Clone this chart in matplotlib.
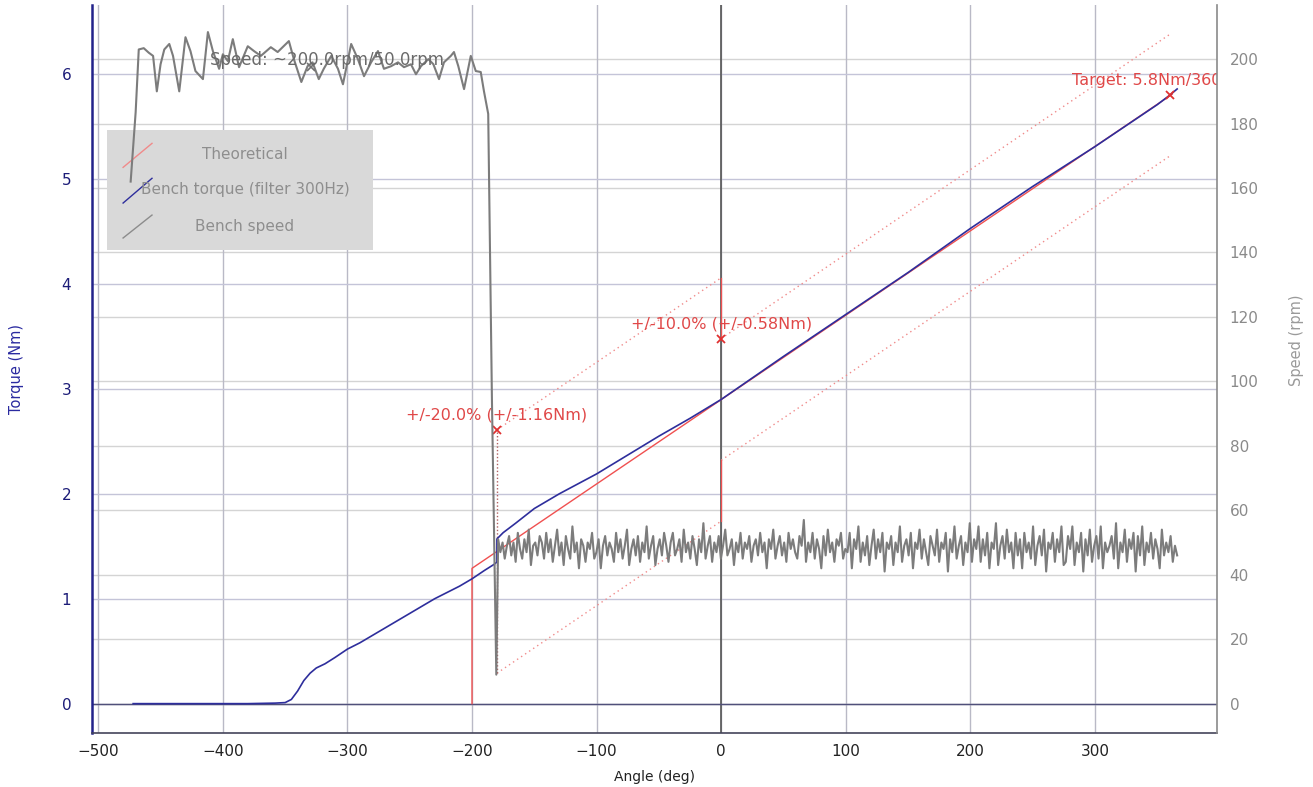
import numpy as np
import matplotlib
matplotlib.use("Agg")
import matplotlib.pyplot as plt
import matplotlib.transforms as mtransforms
from matplotlib.patches import Rectangle
from matplotlib.lines import Line2D

# ---------------- data ----------------
# measured torque (blue), key points read from the chart
torque_angle = [-472, -420, -380, -358, -350, -345, -340, -335, -330, -325, -318, -310, -300,
                -290, -280, -270, -260, -250, -240, -230, -220, -210, -200, -190, -182, -180,
                -180, -175, -165, -150, -130, -100, -75, -50, -25, 0, 50, 100, 150, 200,
                250, 300, 330, 350, 360, 366]
torque_value = [0.0, 0.0, 0.0, 0.005, 0.01, 0.04, 0.12, 0.22, 0.29, 0.34, 0.38, 0.44, 0.52,
                0.58, 0.65, 0.72, 0.79, 0.86, 0.93, 1.00, 1.06, 1.12, 1.19, 1.27, 1.33, 1.35,
                1.57, 1.63, 1.72, 1.86, 2.00, 2.19, 2.37, 2.55, 2.72, 2.90, 3.31, 3.71, 4.11, 4.53,
                4.93, 5.31, 5.55, 5.71, 5.80, 5.86]

# theoretical torque (red)
theo_angle = [-200, -200, 362]
theo_value = [0.0, 1.29, 5.81]

# tolerance bands (dotted)
tol20_angle = [-180, 0]
tol20_upper = [2.61, 4.06]
tol20_lower = [0.29, 1.74]
tol10_angle = [0, 360]
tol10_upper = [3.48, 6.38]
tol10_lower = [2.32, 5.22]

# bench speed (grey), high-speed phase
speed_hi_angle = [-474, -470, -467.5, -463.5, -459.5, -456, -453, -450, -447, -443, -440, -435,
                  -430, -426, -422, -416, -412, -408, -403, -400, -396, -392, -387, -380, -375,
                  -369.5, -361.5, -356, -347, -343, -337, -332, -328, -323, -319, -313, -307.6,
                  -303.6, -297, -291.6, -286.7, -281, -275.5, -270.7, -265, -259.4, -254.6, -249,
                  -245, -241, -235, -231, -226.5, -222.5, -217, -214.5, -211, -206.4, -201, -197,
                  -193, -190.4, -187, -184, -180.5]
speed_hi_value = [162, 183.5, 203, 203.4, 202, 201, 190, 198.4, 203, 204.7, 201, 190,
                  206.8, 202.5, 196.3, 193.8, 208.4, 202.5, 197, 201.5, 199.4, 206.2, 197.5, 204, 202.5,
                  201, 203.7, 202.2, 205.6, 200, 192.9, 197.8, 199, 193.8, 197, 201, 197,
                  192.2, 204.7, 200, 194.7, 199, 202.5, 197, 197.8, 199, 197.5, 198.4,
                  195.3, 197.8, 200, 198.4, 193.8, 199, 201, 202.2, 197.8, 190.7, 201, 196.3,
                  196, 190, 183, 94, 9]

# bench speed, low-speed phase (~50 rpm)
speed_lo_value = [
    51, 47, 50, 45, 49, 52, 46, 50, 44, 53, 48, 45, 51, 47, 54, 43, 49, 50, 46, 52,
    50, 45, 53, 47, 51, 44, 49, 54, 46, 50, 43, 52, 48, 45, 55, 47, 50, 42, 51, 49,
    44, 50, 48, 53, 45, 47, 51, 42, 49, 52, 46, 50, 48, 44, 53, 47, 51, 45, 49, 54,
    43, 48, 51, 46, 52, 44, 50, 47, 55, 45, 49, 52, 43, 48, 51, 46, 53, 49, 44, 50,
    53, 46, 48, 51, 44, 54, 47, 50, 45, 52, 48, 43, 51, 47, 56, 45, 49, 52, 44, 50,
    47, 52, 45, 49, 54, 46, 48, 51, 43, 50, 47, 53, 45, 50, 48, 52, 44, 49, 51, 46,
    53, 47, 50, 42, 51, 48, 54, 45, 49, 52, 46, 50, 44, 53, 48, 51, 47, 45, 52, 49,
    57, 44, 50, 47, 53, 45, 51, 48, 42, 52, 46, 54, 47, 50, 44, 51, 49, 53, 45, 48,
    47, 53, 42, 51, 48, 55, 44, 50, 46, 52, 43, 49, 54, 45, 51, 47, 53, 41, 50, 48,
    52, 43, 50, 47, 55, 44, 49, 51, 46, 53, 42, 50, 48, 54, 45, 51, 47, 43, 52, 49,
    46, 54, 44, 50, 48, 53, 41, 51, 47, 55, 45, 49, 52, 43, 50, 47, 56, 44, 51, 48,
    55, 44, 51, 46, 53, 42, 50, 48, 56, 43, 49, 52, 45, 54, 47, 50, 42, 53, 46, 51,
    42, 53, 47, 50, 45, 55, 43, 49, 52, 46, 54, 41, 50, 48, 53, 44, 51, 47, 55, 43,
    44, 52, 48, 55, 43, 50, 47, 53, 41, 51, 46, 54, 44, 49, 52, 45, 55, 42, 50, 47,
    49, 52, 45, 56, 42, 50, 47, 54, 44, 51, 48, 53, 41, 52, 46, 55, 43, 50, 47, 53,
    45, 51, 48, 42, 54, 46, 50, 47, 52, 44, 49, 46]
speed_lo_start, speed_lo_end = -179, 366

# markers / annotations
tol20_mark = (-180, 2.61)
tol10_mark = (0, 3.48)
target_mark = (360, 5.80)
speed_mark = (-329, 197.5)
txt_tol20 = "+/-20.0% (+/-1.16Nm)"
txt_tol10 = "+/-10.0% (+/-0.58Nm)"
txt_target = "Target: 5.8Nm/360.0deg"
txt_speed = "Speed: ~200.0rpm/50.0rpm"

x_ticks = [-500, -400, -300, -200, -100, 0, 100, 200, 300]
y_ticks = [0, 1, 2, 3, 4, 5, 6]
y2_ticks = [0, 20, 40, 60, 80, 100, 120, 140, 160, 180, 200]
legend_labels = ["Theoretical", "Bench torque (filter 300Hz)", "Bench speed"]

# ---------------- style ----------------
plt.rcParams['font.family'] = ['DejaVu Sans']
BLUE = '#2e2e9c'
RED = '#f05050'
PINK = '#f08a8a'
NAVY = '#1c1c78'

fig = plt.figure(figsize=(13.13, 7.87), dpi=100)
ax = fig.add_axes([0.0701, 0.0686, 0.8568, 0.925])
ax2 = ax.twinx()

ax.set_xlim(-505, 398)
ax.set_ylim(-0.28, 6.66)
ax2.set_ylim(-0.28 * 32.55, 6.66 * 32.55)

# grid lines (drawn under everything on the main axes)
for xv in x_ticks:
    ax.axvline(xv, color='#b9b9c6', lw=1.0, zorder=0.5)
for yv in y_ticks:
    ax.axhline(yv, color='#c4c4d8', lw=1.0, zorder=0.5)
blend = mtransforms.blended_transform_factory(ax.transAxes, ax2.transData)
for yv in y2_ticks:
    ax.add_line(Line2D([0, 1], [yv, yv], transform=blend, color='#d4d4d4', lw=1.0, zorder=0.4))
ax.axvline(0, color='#555555', lw=1.2, zorder=0.8)
ax.axhline(0, color='#50507a', lw=1.0, zorder=0.8)

# legend box (manual, centred text as in the original)
ax.add_patch(Rectangle((0.0133, 0.663), 0.2365, 0.165, transform=ax.transAxes,
                       facecolor='#d9d9d9', edgecolor='none', zorder=0.9))
leg_colors = [PINK, BLUE, '#8c8c8c']
leg_y = [(0.777, 0.810), (0.728, 0.762), (0.680, 0.7115)]
leg_text_y = [0.794, 0.746, 0.696]
for c, (y0, y1), ty, lab in zip(leg_colors, leg_y, leg_text_y, legend_labels):
    ax.add_line(Line2D([0.0276, 0.0533], [y0, y1], transform=ax.transAxes, color=c, lw=1.0, zorder=1))
    ax.text(0.136, ty, lab, transform=ax.transAxes, ha='center', va='center',
            color='#8e8e8e', fontsize=11, zorder=1)

# tolerance lines
dot = (0, (1, 2.5))
ax.plot(tol20_angle, tol20_upper, color=PINK, lw=1.0, ls=dot, zorder=2)
ax.plot(tol20_angle, tol20_lower, color=PINK, lw=1.0, ls=dot, zorder=2)
ax.plot(tol10_angle, tol10_upper, color=PINK, lw=1.0, ls=dot, zorder=2)
ax.plot(tol10_angle, tol10_lower, color=PINK, lw=1.0, ls=dot, zorder=2)
ax.plot([tol20_angle[0], tol20_angle[0]], [tol20_lower[0], tol20_upper[0]],
        color='#b06060', lw=1.0, ls=(0, (1, 1.5)), zorder=2)
ax.plot([tol10_angle[0], tol10_angle[0]], [tol20_lower[1], tol10_lower[0]], color=RED, lw=0.9, zorder=2)
ax.plot([tol10_angle[0], tol10_angle[0]], [tol10_upper[0], tol20_upper[1]], color=RED, lw=0.9, zorder=2)

# theoretical & measured torque
ax.plot(theo_angle, theo_value, color=RED, lw=1.0, zorder=3)
ax.plot(torque_angle, torque_value, color=BLUE, lw=1.2, zorder=4)

# markers and labels
for (mx, my), t in [(tol20_mark, txt_tol20), (tol10_mark, txt_tol10), (target_mark, txt_target)]:
    ax.plot(mx, my, marker='x', color='#e03030', ms=6, mew=1.3, zorder=5)
    a = ax.annotate(t, (mx, my), xytext=(0, 5), textcoords='offset points', ha='center',
                    va='bottom', color='#e04848', fontsize=11.5, zorder=5)
    a.set_clip_on(True)
    a.set_clip_box(ax.bbox)

# speed
speed_lo_angle = np.linspace(speed_lo_start, speed_lo_end, len(speed_lo_value))
ax2.plot(speed_hi_angle + list(speed_lo_angle), speed_hi_value + speed_lo_value,
         color='#7c7c7c', lw=1.5, zorder=3)
ax2.plot(*speed_mark, marker='x', color='#707070', ms=6, mew=1.2, zorder=4)
ax2.annotate(txt_speed, speed_mark, xytext=(11, 5), textcoords='offset points', ha='center',
             va='center', color='#6a6a6a', fontsize=12, zorder=4)

# axes cosmetics
ax.set_xticks(x_ticks)
ax.set_yticks(y_ticks)
ax2.set_yticks(y2_ticks)
ax.tick_params(axis='x', length=0, pad=8, labelsize=11, labelcolor='#222222')
ax.tick_params(axis='y', length=0, pad=15, labelsize=11, labelcolor=NAVY)
ax2.tick_params(axis='y', length=0, pad=9, labelsize=11, labelcolor='#8a8a8a')

ax.spines['top'].set_visible(False)
ax2.spines['top'].set_visible(False)
ax.spines['left'].set_color('#22228a')
ax.spines['left'].set_linewidth(1.8)
ax.spines['bottom'].set_color('#44445a')
ax.spines['bottom'].set_linewidth(1.2)
ax2.spines['left'].set_visible(False)
ax2.spines['bottom'].set_visible(False)
ax.spines['right'].set_visible(False)
ax2.spines['right'].set_color('#8a8a8a')
ax2.spines['right'].set_linewidth(1.2)

ax.set_xlabel("Angle (deg)", fontsize=10, color='#222222', labelpad=8)
ax.set_ylabel("Torque (Nm)", fontsize=10.5, color='#2a2aa0',
              family=['Liberation Sans Narrow', 'DejaVu Sans'])
ax.yaxis.set_label_coords(-0.0605, 0.5)
ax2.set_ylabel("Speed (rpm)", fontsize=10.5, color='#9a9a9a',
               family=['Liberation Sans Narrow', 'DejaVu Sans'])
ax2.yaxis.set_label_coords(1.064, 0.54)

fig.savefig("out.png", dpi=100)
